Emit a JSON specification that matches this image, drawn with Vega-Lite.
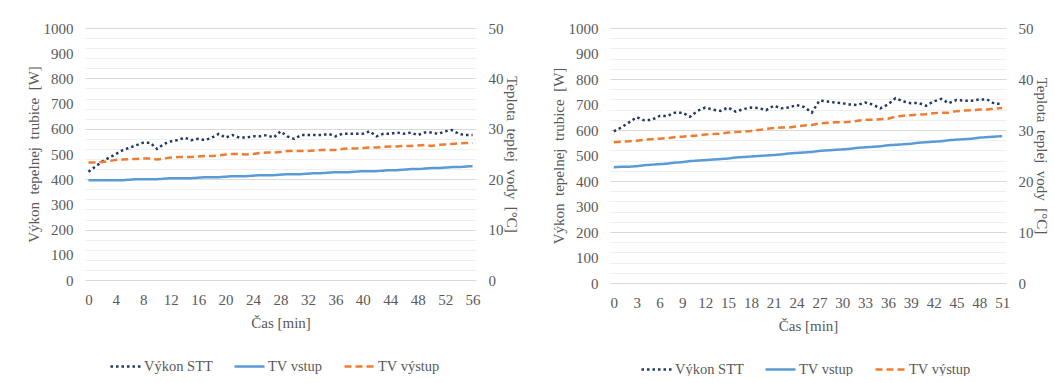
{
  "$schema": "https://vega.github.io/schema/vega-lite/v6.json",
  "padding": {"left": 26, "top": 21, "right": 0, "bottom": 0},
  "background": "white",
  "config": {
    "view": {"stroke": null},
    "font": "Liberation Serif",
    "axis": {
      "labelFont": "Liberation Serif", "labelFontSize": 15, "labelColor": "#595959",
      "titleFont": "Liberation Serif", "titleFontSize": 15, "titleFontWeight": "normal", "titleColor": "#595959",
      "domain": false, "ticks": false, "grid": false
    },
    "legend": {
      "labelFont": "Liberation Serif", "labelFontSize": 14.5, "labelColor": "#595959"
    }
  },
  "datasets": {
    "a": [
      {"t":0,"stt":430,"vin":19.8,"vout":23.3},{"t":1,"stt":450,"vin":19.8,"vout":23.3},{"t":2,"stt":470,"vin":19.8,"vout":23.4},{"t":3,"stt":485,"vin":19.8,"vout":23.6},{"t":4,"stt":500,"vin":19.8,"vout":23.8},{"t":5,"stt":515,"vin":19.8,"vout":23.9},{"t":6,"stt":525,"vin":19.9,"vout":24.0},{"t":7,"stt":535,"vin":20.0,"vout":24.0},{"t":8,"stt":545,"vin":20.0,"vout":24.1},{"t":9,"stt":545,"vin":20.0,"vout":24.1},
      {"t":10,"stt":520,"vin":20.0,"vout":23.9},{"t":11,"stt":540,"vin":20.1,"vout":24.1},{"t":12,"stt":550,"vin":20.2,"vout":24.3},{"t":13,"stt":555,"vin":20.2,"vout":24.4},{"t":14,"stt":565,"vin":20.2,"vout":24.4},{"t":15,"stt":555,"vin":20.2,"vout":24.4},{"t":16,"stt":560,"vin":20.3,"vout":24.5},{"t":17,"stt":555,"vin":20.4,"vout":24.6},{"t":18,"stt":565,"vin":20.4,"vout":24.6},{"t":19,"stt":580,"vin":20.4,"vout":24.7},
      {"t":20,"stt":565,"vin":20.5,"vout":24.9},{"t":21,"stt":575,"vin":20.6,"vout":25.0},{"t":22,"stt":565,"vin":20.6,"vout":25.0},{"t":23,"stt":565,"vin":20.6,"vout":24.9},{"t":24,"stt":570,"vin":20.7,"vout":25.0},{"t":25,"stt":570,"vin":20.8,"vout":25.2},{"t":26,"stt":575,"vin":20.8,"vout":25.3},{"t":27,"stt":565,"vin":20.8,"vout":25.3},{"t":28,"stt":590,"vin":20.9,"vout":25.4},{"t":29,"stt":570,"vin":21.0,"vout":25.6},
      {"t":30,"stt":560,"vin":21.0,"vout":25.6},{"t":31,"stt":575,"vin":21.0,"vout":25.6},{"t":32,"stt":575,"vin":21.1,"vout":25.6},{"t":33,"stt":575,"vin":21.2,"vout":25.7},{"t":34,"stt":575,"vin":21.2,"vout":25.8},{"t":35,"stt":580,"vin":21.3,"vout":25.8},{"t":36,"stt":570,"vin":21.4,"vout":25.8},{"t":37,"stt":580,"vin":21.4,"vout":26.0},{"t":38,"stt":580,"vin":21.4,"vout":26.1},{"t":39,"stt":580,"vin":21.5,"vout":26.1},
      {"t":40,"stt":580,"vin":21.6,"vout":26.2},{"t":41,"stt":590,"vin":21.6,"vout":26.3},{"t":42,"stt":570,"vin":21.6,"vout":26.3},{"t":43,"stt":580,"vin":21.7,"vout":26.4},{"t":44,"stt":580,"vin":21.8,"vout":26.5},{"t":45,"stt":585,"vin":21.8,"vout":26.5},{"t":46,"stt":580,"vin":21.9,"vout":26.6},{"t":47,"stt":585,"vin":22.0,"vout":26.6},{"t":48,"stt":575,"vin":22.0,"vout":26.7},{"t":49,"stt":585,"vin":22.1,"vout":26.8},
      {"t":50,"stt":585,"vin":22.2,"vout":26.6},{"t":51,"stt":580,"vin":22.2,"vout":26.8},{"t":52,"stt":590,"vin":22.3,"vout":26.9},{"t":53,"stt":595,"vin":22.4,"vout":27.0},{"t":54,"stt":580,"vin":22.4,"vout":27.1},{"t":55,"stt":575,"vin":22.5,"vout":27.2},{"t":56,"stt":575,"vin":22.6,"vout":27.2}
    ],
    "b": [
      {"t":0,"stt":595,"vin":22.7,"vout":27.6},{"t":1,"stt":610,"vin":22.8,"vout":27.7},{"t":2,"stt":630,"vin":22.8,"vout":27.8},{"t":3,"stt":650,"vin":22.9,"vout":27.9},{"t":4,"stt":638,"vin":23.1,"vout":28.1},{"t":5,"stt":640,"vin":23.2,"vout":28.2},{"t":6,"stt":655,"vin":23.3,"vout":28.3},{"t":7,"stt":655,"vin":23.4,"vout":28.4},{"t":8,"stt":668,"vin":23.6,"vout":28.6},{"t":9,"stt":668,"vin":23.7,"vout":28.7},
      {"t":10,"stt":652,"vin":23.9,"vout":28.8},{"t":11,"stt":675,"vin":24.0,"vout":28.9},{"t":12,"stt":688,"vin":24.1,"vout":29.1},{"t":13,"stt":680,"vin":24.2,"vout":29.2},{"t":14,"stt":675,"vin":24.3,"vout":29.3},{"t":15,"stt":688,"vin":24.4,"vout":29.5},{"t":16,"stt":672,"vin":24.6,"vout":29.6},{"t":17,"stt":682,"vin":24.7,"vout":29.7},{"t":18,"stt":688,"vin":24.8,"vout":29.8},{"t":19,"stt":686,"vin":24.9,"vout":30.0},
      {"t":20,"stt":678,"vin":25.0,"vout":30.2},{"t":21,"stt":695,"vin":25.1,"vout":30.4},{"t":22,"stt":685,"vin":25.2,"vout":30.5},{"t":23,"stt":688,"vin":25.4,"vout":30.5},{"t":24,"stt":698,"vin":25.5,"vout":30.7},{"t":25,"stt":690,"vin":25.6,"vout":30.9},{"t":26,"stt":668,"vin":25.7,"vout":31.0},{"t":27,"stt":715,"vin":25.9,"vout":31.3},{"t":28,"stt":712,"vin":26.0,"vout":31.4},{"t":29,"stt":708,"vin":26.1,"vout":31.5},
      {"t":30,"stt":705,"vin":26.2,"vout":31.5},{"t":31,"stt":700,"vin":26.3,"vout":31.6},{"t":32,"stt":698,"vin":26.5,"vout":31.8},{"t":33,"stt":708,"vin":26.6,"vout":32.0},{"t":34,"stt":700,"vin":26.7,"vout":32.0},{"t":35,"stt":685,"vin":26.8,"vout":32.1},{"t":36,"stt":700,"vin":27.0,"vout":32.2},{"t":37,"stt":725,"vin":27.1,"vout":32.6},{"t":38,"stt":712,"vin":27.2,"vout":32.8},{"t":39,"stt":705,"vin":27.3,"vout":32.9},
      {"t":40,"stt":706,"vin":27.5,"vout":33.0},{"t":41,"stt":695,"vin":27.6,"vout":33.1},{"t":42,"stt":712,"vin":27.7,"vout":33.3},{"t":43,"stt":722,"vin":27.8,"vout":33.4},{"t":44,"stt":705,"vin":28.0,"vout":33.4},{"t":45,"stt":718,"vin":28.1,"vout":33.7},{"t":46,"stt":715,"vin":28.2,"vout":33.8},{"t":47,"stt":715,"vin":28.3,"vout":33.9},{"t":48,"stt":720,"vin":28.5,"vout":34.0},{"t":49,"stt":720,"vin":28.6,"vout":34.0},
      {"t":50,"stt":703,"vin":28.7,"vout":34.2},{"t":51,"stt":703,"vin":28.8,"vout":34.3}
    ]
  },
  "spacing": 33,
  "resolve": {
    "scale": {"color": "independent", "strokeDash": "independent"},
    "legend": {"color": "independent", "strokeDash": "independent"}
  },
  "hconcat": [
    {
      "width": 391, "height": 252,
      "data": {"name": "a"},
      "transform": [{"fold": ["stt", "vin", "vout"], "as": ["s", "v"]}],
      "encoding": {
        "x": {"field": "t", "type": "quantitative",
          "scale": {"domain": [-0.5, 56.5], "nice": false, "zero": false},
          "axis": {"values": [0,4,8,12,16,20,24,28,32,36,40,44,48,52,56], "format": "d", "title": "Čas [min]", "labelPadding": 12, "titlePadding": 8}},
        "color": {"field": "s", "type": "nominal",
          "scale": {"domain": ["stt", "vin", "vout"], "range": ["#203864", "#5B9BD5", "#ED7D31"]},
          "legend": {"orient": "none", "legendX": 24, "legendY": 322, "direction": "horizontal", "title": null, "symbolType": "stroke", "symbolSize": 900, "symbolStrokeWidth": 2.5, "columnPadding": 16, "labelOffset": 2,
            "labelExpr": "datum.label == 'stt' ? 'Výkon STT' : datum.label == 'vin' ? 'TV vstup' : 'TV výstup'"}},
        "strokeDash": {"field": "s", "type": "nominal",
          "scale": {"domain": ["stt", "vin", "vout"], "range": [[2.5, 3], [1, 0], [7, 4]]},
          "legend": {"orient": "none", "legendX": 24, "legendY": 322, "direction": "horizontal", "title": null, "symbolType": "stroke", "symbolSize": 900, "symbolStrokeWidth": 2.5, "columnPadding": 16, "labelOffset": 2,
            "labelExpr": "datum.label == 'stt' ? 'Výkon STT' : datum.label == 'vin' ? 'TV vstup' : 'TV výstup'"}}
      },
      "layer": [
        {
          "transform": [{"filter": "datum.s == 'stt'"}],
          "mark": {"type": "line", "strokeWidth": 2.5},
          "encoding": {
            "y": {"field": "v", "type": "quantitative", "scale": {"domain": [0, 1000], "nice": false},
              "axis": {"values": [0,100,200,300,400,500,600,700,800,900,1000], "format": "d", "title": "Výkon\u00a0 tepelnej\u00a0 trubice\u00a0 [W]", "labelPadding": 12, "titlePadding": 2}}
          }
        },
        {
          "transform": [{"filter": "datum.s != 'stt'"}],
          "mark": {"type": "line", "strokeWidth": 2.5},
          "encoding": {
            "y": {"field": "v", "type": "quantitative", "scale": {"domain": [0, 50], "nice": false},
              "axis": {"orient": "right", "values": [0,2,4,6,8,10,12,14,16,18,20,22,24,26,28,30,32,34,36,38,40,42,44,46,48,50],
                "labelExpr": "datum.value % 10 === 0 ? datum.label : ''", "grid": true,
                "gridColor": {"condition": {"test": "datum.value % 10 === 0", "value": "#D9D9D9"}, "value": "#EFEFEF"},
                "title": "Teplota\u00a0 teplej\u00a0 vody\u00a0 [°C]", "labelPadding": 12, "titlePadding": 0}}
          }
        }
      ],
      "resolve": {"scale": {"y": "independent"}}
    },
    {
      "width": 396, "height": 255,
      "data": {"name": "b"},
      "transform": [{"fold": ["stt", "vin", "vout"], "as": ["s", "v"]}],
      "encoding": {
        "x": {"field": "t", "type": "quantitative",
          "scale": {"domain": [-0.5, 51.5], "nice": false, "zero": false},
          "axis": {"values": [0,3,6,9,12,15,18,21,24,27,30,33,36,39,42,45,48,51], "format": "d", "title": "Čas [min]", "labelPadding": 12, "titlePadding": 8}},
        "color": {"field": "s", "type": "nominal",
          "scale": {"domain": ["stt", "vin", "vout"], "range": ["#203864", "#5B9BD5", "#ED7D31"]},
          "legend": {"orient": "none", "legendX": 30, "legendY": 325, "direction": "horizontal", "title": null, "symbolType": "stroke", "symbolSize": 900, "symbolStrokeWidth": 2.5, "columnPadding": 16, "labelOffset": 2,
            "labelExpr": "datum.label == 'stt' ? 'Výkon STT' : datum.label == 'vin' ? 'TV vstup' : 'TV výstup'"}},
        "strokeDash": {"field": "s", "type": "nominal",
          "scale": {"domain": ["stt", "vin", "vout"], "range": [[2.5, 3], [1, 0], [7, 4]]},
          "legend": {"orient": "none", "legendX": 30, "legendY": 325, "direction": "horizontal", "title": null, "symbolType": "stroke", "symbolSize": 900, "symbolStrokeWidth": 2.5, "columnPadding": 16, "labelOffset": 2,
            "labelExpr": "datum.label == 'stt' ? 'Výkon STT' : datum.label == 'vin' ? 'TV vstup' : 'TV výstup'"}}
      },
      "layer": [
        {
          "transform": [{"filter": "datum.s == 'stt'"}],
          "mark": {"type": "line", "strokeWidth": 2.5},
          "encoding": {
            "y": {"field": "v", "type": "quantitative", "scale": {"domain": [0, 1000], "nice": false},
              "axis": {"values": [0,100,200,300,400,500,600,700,800,900,1000], "format": "d", "title": "Výkon\u00a0 tepelnej\u00a0 trubice\u00a0 [W]", "labelPadding": 12, "titlePadding": 2}}
          }
        },
        {
          "transform": [{"filter": "datum.s != 'stt'"}],
          "mark": {"type": "line", "strokeWidth": 2.5},
          "encoding": {
            "y": {"field": "v", "type": "quantitative", "scale": {"domain": [0, 50], "nice": false},
              "axis": {"orient": "right", "values": [0,2,4,6,8,10,12,14,16,18,20,22,24,26,28,30,32,34,36,38,40,42,44,46,48,50],
                "labelExpr": "datum.value % 10 === 0 ? datum.label : ''", "grid": true,
                "gridColor": {"condition": {"test": "datum.value % 10 === 0", "value": "#D9D9D9"}, "value": "#EFEFEF"},
                "title": "Teplota\u00a0 teplej\u00a0 vody\u00a0 [°C]", "labelPadding": 12, "titlePadding": 0}}
          }
        }
      ],
      "resolve": {"scale": {"y": "independent"}}
    }
  ]
}
